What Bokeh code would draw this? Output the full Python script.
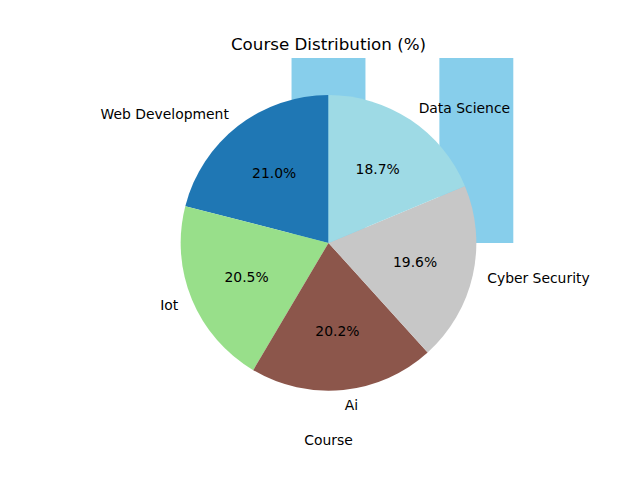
import numpy as np
from bokeh.plotting import figure
from bokeh.models import Range1d, ColumnDataSource
from bokeh.core.properties import value
from bokeh.embed import file_html
from bokeh.resources import INLINE

# ---- data ----
courses = ["Web Development", "Iot", "Ai", "Cyber Security", "Data Science"]
percentages = [21.0, 20.5, 20.2, 19.6, 18.7]
pie_colors = ["#1f77b4", "#98df8a", "#8c564b", "#c7c7c7", "#9edae5"]
bar_positions = [0, 1, 2, 3, 4]
bar_heights = [21.0, 20.5, 20.2, 19.6, 18.7]
title_text = "Course Distribution (%)"
xlabel_text = "Course"

# ---- layout (matplotlib-like axes box) ----
W, H = 640, 480
AX_LEFT, AX_RIGHT, AX_TOP, AX_BOTTOM = 80.0, 576.0, 57.6, 427.2
LIM = 1.25
U = (AX_BOTTOM - AX_TOP) / (2 * LIM)      # px per data unit
CX = (AX_LEFT + AX_RIGHT) / 2
CY = (AX_TOP + AX_BOTTOM) / 2
FONT = value("DejaVu Sans")
FS = "13.9px"
TITLE_FS = "16.7px"

p = figure(width=W, height=H, output_backend="svg", toolbar_location=None,
           x_range=Range1d(-CX / U, (W - CX) / U),
           y_range=Range1d(-(H - CY) / U, CY / U),
           x_axis_location=None, y_axis_location=None, min_border=0)
p.grid.visible = False
p.outline_line_color = None
p.background_fill_color = "white"
p.border_fill_color = "white"

# ---- bars behind the pie, clipped to the axes box ----
bl, br, bt, bb = [], [], [], []
for x, h in zip(bar_positions, bar_heights):
    left = max(x - 0.25, -LIM)
    right = min(x + 0.25, LIM)
    if left >= right:
        continue
    bl.append(left); br.append(right)
    bb.append(max(0.0, -LIM)); bt.append(min(h, LIM))
p.quad(left=bl, right=br, top=bt, bottom=bb, fill_color="#87ceeb", line_color=None)

# ---- pie ----
vals = np.array(percentages, dtype=float)
frac = vals / vals.sum()
start_deg = 90 + 360 * np.concatenate([[0], np.cumsum(frac)[:-1]])
end_deg = start_deg + 360 * frac
mid = np.deg2rad((start_deg + end_deg) / 2)

src = ColumnDataSource(dict(start=np.deg2rad(start_deg), end=np.deg2rad(end_deg),
                            color=pie_colors))
p.wedge(x=0, y=0, radius=1, start_angle="start", end_angle="end",
        direction="anticlock", fill_color="color", line_color=None, source=src)

# percentage texts
pct = [f"{f*100:.1f}%" for f in frac]
p.text(x=0.6 * np.cos(mid), y=0.6 * np.sin(mid), text=pct,
       text_align="center", text_baseline="middle",
       text_font=FONT, text_font_size=FS, text_color="black")

# category labels
lx = 1.1 * np.cos(mid)
ly = 1.1 * np.sin(mid)
for i, name in enumerate(courses):
    p.text(x=[lx[i]], y=[ly[i]], text=[name],
           text_align="left" if lx[i] > 0 else "right", text_baseline="middle",
           text_font=FONT, text_font_size=FS, text_color="black")

# title and x label
p.text(x=[0], y=[(CY - 43.5) / U], text=[title_text], text_align="center",
       text_baseline="middle", text_font=FONT, text_font_size=TITLE_FS,
       text_color="black")
p.text(x=[0], y=[(CY - 439.0) / U], text=[xlabel_text], text_align="center",
       text_baseline="middle", text_font=FONT, text_font_size=FS,
       text_color="black")

open("out.html", "w").write(file_html(p, INLINE))
